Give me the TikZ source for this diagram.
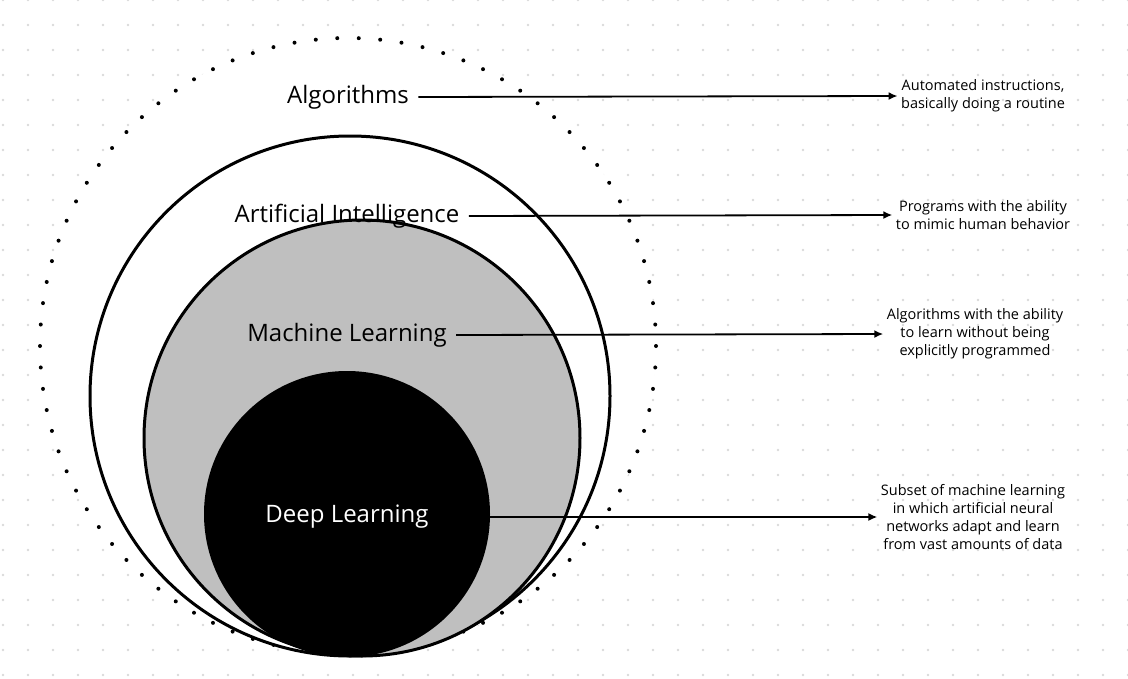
\documentclass[tikz,border=0pt]{standalone}
\usepackage{fontspec}
\setmainfont{Open Sans}
\begin{document}
\begin{tikzpicture}[x=1pt,y=-1pt,
  big/.style={font=\fontsize{24}{28}\selectfont},
  note/.style={font=\fontsize{14.5}{18}\selectfont, align=center},
  arr/.style={line width=1.8pt,-{Latex[length=9pt,width=8pt]}}]
\usetikzlibrary{arrows.meta}
\useasboundingbox (0,0) rectangle (1128,678);
\foreach \i in {0,...,45} \foreach \j in {0,...,27}
  \fill[gray!30] (3+25*\i,25*\j) circle (1.3);
\fill[white] (348,346) circle (308);
\foreach \a in {0,4,...,356} \fill (348,346) ++(\a:308) circle (2);
\draw[line width=3pt, fill=white] (350,396) circle (260);
\draw[line width=3pt, fill=black!25] (362,438) circle (218);
\fill (347,514) circle (143);
\node[big] (alg) at (348,97) {Algorithms};
\node[big] (ai) at (347,216) {Artificial Intelligence};
\node[big] (ml) at (347,335) {Machine Learning};
\node[big,white] (dl) at (347,517) {Deep Learning};
\node[note] (t1) at (983,96) {Automated instructions,\\basically doing a routine};
\node[note] (t2) at (983,215) {Programs with the ability\\to mimic human behavior};
\node[note] (t3) at (975,334) {Algorithms with the ability\\to learn without being\\explicitly programmed};
\node[note] (t4) at (973,517) {Subset of machine learning\\in which artificial neural\\networks adapt and learn\\from vast amounts of data};
\draw[arr] (alg.east)++(6,0) -- (t1.west);
\draw[arr] (ai.east)++(6,0) -- (t2.west);
\draw[arr] (ml.east)++(6,0) -- (t3.west);
\draw[arr] (dl.east)++(6,0) -- (t4.west);
\end{tikzpicture}
\end{document}
